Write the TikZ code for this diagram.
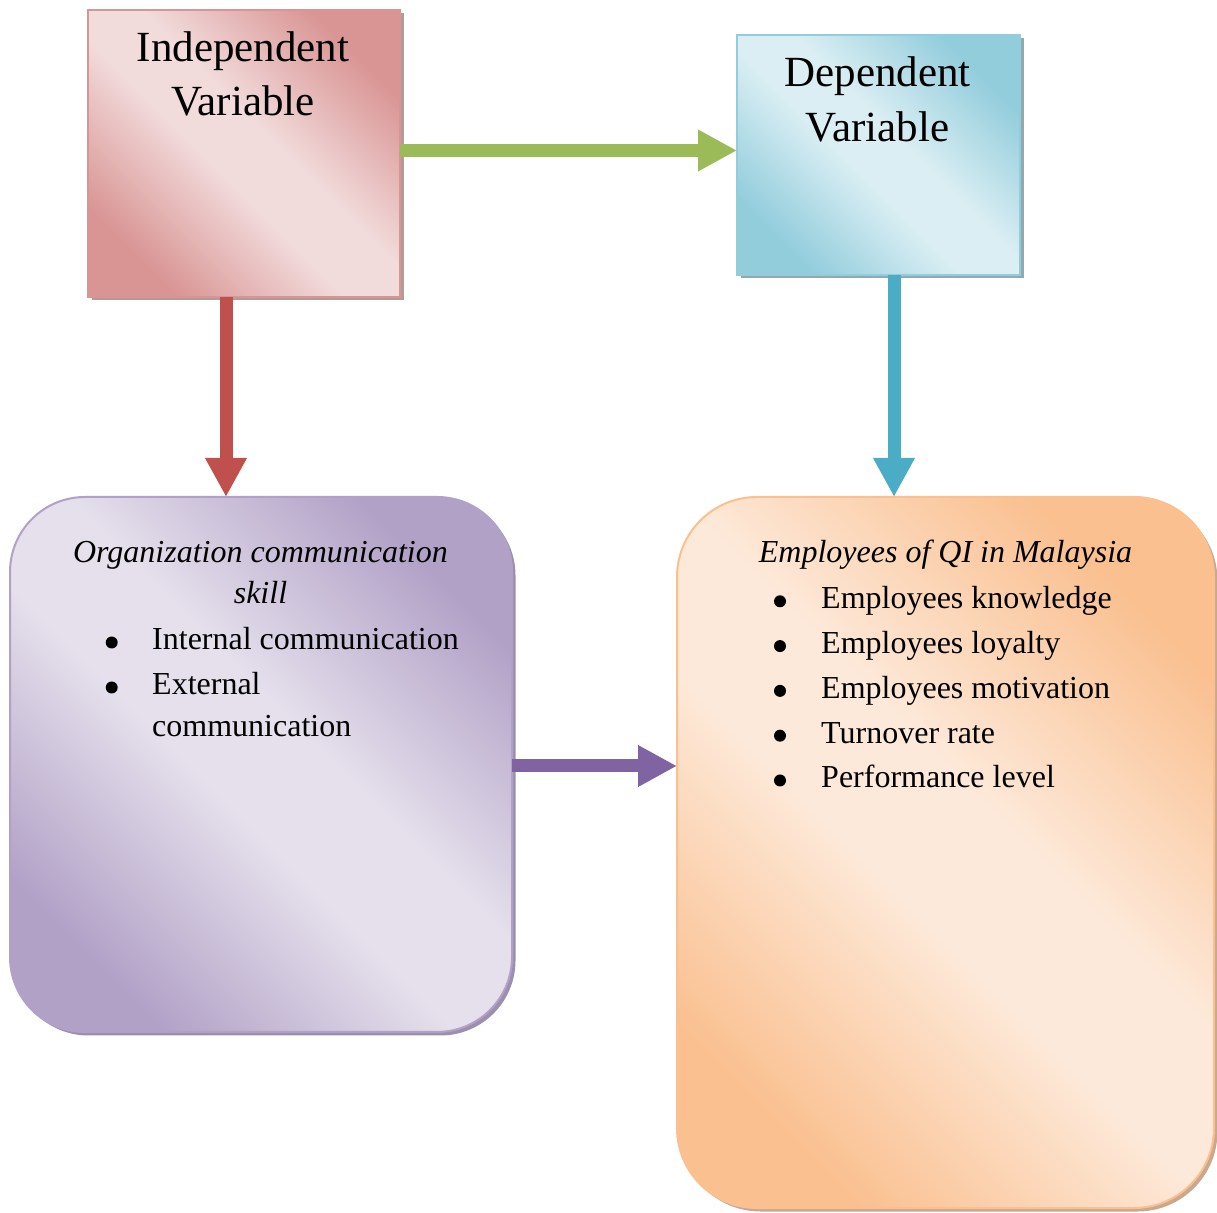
\documentclass[tikz,border=0pt]{standalone}
\usepackage{fontspec}
\setmainfont{Liberation Serif}
\usetikzlibrary{arrows.meta,shadows}

% box colours: dark edge tone, light centre tone, shadow tone
\definecolor{ivdark}{HTML}{D99594}
\definecolor{ivlight}{HTML}{F2DBDB}
\definecolor{ivshadow}{HTML}{B39A9A}
\definecolor{dvdark}{HTML}{92CDDC}
\definecolor{dvlight}{HTML}{DAEEF3}
\definecolor{dvshadow}{HTML}{93A9B0}
\definecolor{ocdark}{HTML}{B2A1C7}
\definecolor{oclight}{HTML}{E5E0EC}
\definecolor{ocshadow}{HTML}{9C8FAE}
\definecolor{emdark}{HTML}{FAC090}
\definecolor{emlight}{HTML}{FDE9D9}
\definecolor{emshadow}{HTML}{C8A88E}
% connector colours
\definecolor{redarrow}{HTML}{C0504D}
\definecolor{greenarrow}{HTML}{9BBB59}
\definecolor{bluearrow}{HTML}{4BACC6}
\definecolor{purplearrow}{HTML}{8064A2}

% mirrored diagonal gradient: dark at both ends, light centre
\colorlet{sdark}{gray}
\colorlet{slight}{white}
\pgfdeclareverticalshading[sdark,slight]{mirrordiag}{100bp}{%
  color(0bp)=(sdark); color(25bp)=(sdark); color(45bp)=(slight);
  color(55bp)=(slight); color(75bp)=(sdark); color(100bp)=(sdark)}

\begin{document}
\begin{tikzpicture}[x=1pt,y=1pt,
  shadedbox/.style n args={3}{rectangle, inner sep=0pt, outer sep=0pt,
    line width=2pt, draw=#1,
    /utils/exec={\colorlet{sdark}{#1}\colorlet{slight}{#2}},
    shading=mirrordiag, shading angle=-45,
    drop shadow={shadow xshift=3.5pt, shadow yshift=-3.5pt, fill=#3, opacity=1}},
  heading/.style={inner sep=0pt, anchor=base, font=\fontsize{43}{55}\selectfont},
  subhead/.style={inner sep=0pt, anchor=base, font=\fontsize{32}{42}\selectfont\itshape},
  item/.style={inner sep=0pt, anchor=base west, font=\fontsize{32}{45}\selectfont},
  bulletdot/.style={circle, fill=black, inner sep=0pt, minimum size=12pt, yshift=7.5pt},
  link/.style={line width=13pt, -{Triangle[length=39pt, width=39pt]}}
]
\path[use as bounding box, fill=white] (0,0) rectangle (1217,1212);

% variable boxes
\node[shadedbox={ivdark}{ivlight}{ivshadow}, minimum width=312pt, minimum height=287pt]
  (iv) at (244,1058.5) {};
\node[shadedbox={dvdark}{dvlight}{dvshadow}, minimum width=283pt, minimum height=240pt]
  (dv) at (878.5,1057) {};

% detail boxes
\node[shadedbox={ocdark}{oclight}{ocshadow}, rounded corners=75pt,
  minimum width=502pt, minimum height=535pt] (org) at (261,447.5) {};
\node[shadedbox={emdark}{emlight}{emshadow}, rounded corners=80pt,
  minimum width=537pt, minimum height=711pt] (emp) at (945.5,359.5) {};

% headings
\node[heading] (iv1) at (243,1150) {Independent};
\node[heading] (iv2) at (243,1096) {Variable};
\node[heading] (dv1) at (877.5,1125) {Dependent};
\node[heading] (dv2) at (877.5,1070) {Variable};

% organization communication skill
\node[subhead] (oc1) at (260.5,649) {Organization communication};
\node[subhead] (oc2) at (260.5,608) {skill};
\node[bulletdot] (ocb1) at (111.7,562) {};
\node[item] (oct1) at (152,562) {Internal communication};
\node[bulletdot] (ocb2) at (111.7,517) {};
\node[item] (oct2) at (152,517) {External};
\node[item] (oct3) at (152,475) {communication};

% employees of QI in Malaysia
\node[subhead] (em0) at (945.5,649) {Employees of QI in Malaysia};
\foreach \t [count=\i] in {Employees knowledge, Employees loyalty,
    Employees motivation, Turnover rate, Performance level}{
  \node[bulletdot] (emb\i) at (780,648-44.8*\i) {};
  \node[item] (emt\i) at (821,648-44.8*\i) {\t};
}

% connector lines
\coordinate (gy) at (0,1061.5);
\coordinate (rx) at (226,0);
\coordinate (bx) at (894,0);
\coordinate (py) at (0,446);
\draw[link, greenarrow] (iv.east |- gy) -- (dv.west |- gy);
\draw[link, redarrow] (iv.south -| rx) -- (org.north -| rx);
\draw[link, bluearrow] (dv.south -| bx) -- (emp.north -| bx);
\draw[link, purplearrow] (org.east |- py) -- (emp.west |- py);
\end{tikzpicture}
\end{document}
